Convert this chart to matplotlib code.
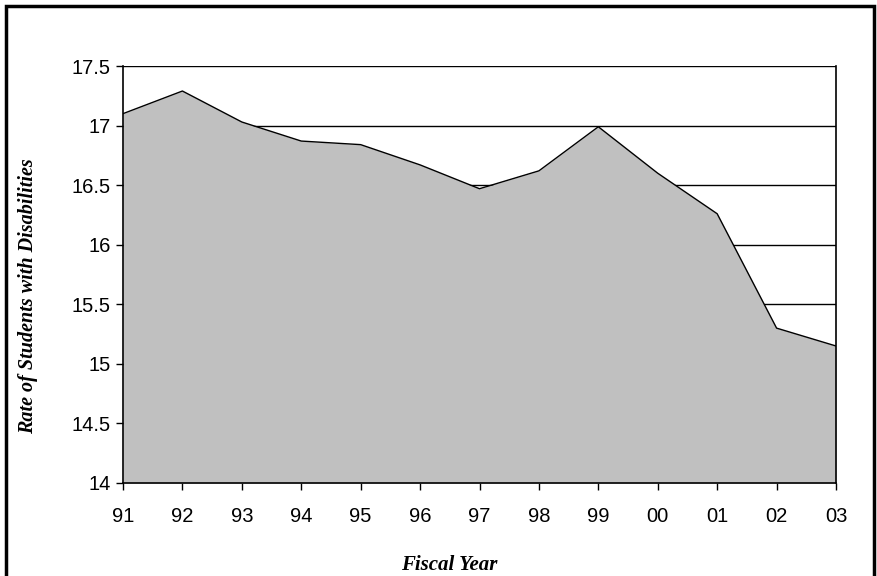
import matplotlib.pyplot as plt
from matplotlib.patches import Rectangle

years = ["91", "92", "93", "94", "95", "96", "97", "98", "99", "00", "01", "02", "03"]
rate = [17.10, 17.29, 17.03, 16.87, 16.84, 16.67, 16.47, 16.62, 16.99, 16.60, 16.26, 15.30, 15.15]
yticks = [14, 14.5, 15, 15.5, 16, 16.5, 17, 17.5]
ylabels = ["14", "14.5", "15", "15.5", "16", "16.5", "17", "17.5"]

fig = plt.figure(figsize=(8.77, 5.76), dpi=100)
ax = fig.add_axes([123 / 877, 1 - 483 / 576, (836 - 123) / 877, (483 - 66) / 576])

x = list(range(len(years)))
ax.fill_between(x, 14, rate, color="#c0c0c0", zorder=2, linewidth=0)
ax.plot(x, rate, color="black", linewidth=1, zorder=3)

ax.set_xlim(0, len(years) - 1)
ax.set_ylim(14, 17.5)
ax.set_yticks(yticks)
ax.set_yticklabels(ylabels)
ax.set_xticks(x)
ax.set_xticklabels(years)
ax.yaxis.grid(True, color="black", linewidth=1, zorder=1)
ax.set_axisbelow(True)
ax.spines["top"].set_visible(False)
for s in ["left", "right", "bottom"]:
    ax.spines[s].set_linewidth(1.2)
    ax.spines[s].set_zorder(4)
ax.tick_params(axis="both", direction="out", length=5, width=1, colors="black",
               labelsize=14.5)
ax.tick_params(axis="x", pad=12)
ax.tick_params(axis="y", pad=4)
for lab in ax.get_xticklabels() + ax.get_yticklabels():
    lab.set_family("Liberation Sans")

ax.set_ylabel("Rate of Students with Disabilities", family="Liberation Serif",
              style="italic", weight="bold", fontsize=14.5, va="center")
ax.yaxis.set_label_coords((28 - 123) / 713, (483 - 296) / 417)
ax.set_xlabel("Fiscal Year", family="Liberation Serif", style="italic",
              weight="bold", fontsize=15, va="center")
ax.xaxis.set_label_coords((449 - 123) / 713, (483 - 565) / 417)

# outer chart border
fig.patches.append(Rectangle((5.5 / 877, -0.05), (874 - 5.5) / 877, 1.05 - 6 / 576,
                             transform=fig.transFigure, fill=False,
                             edgecolor="black", linewidth=2.5))

fig.savefig("out.png", dpi=100)
